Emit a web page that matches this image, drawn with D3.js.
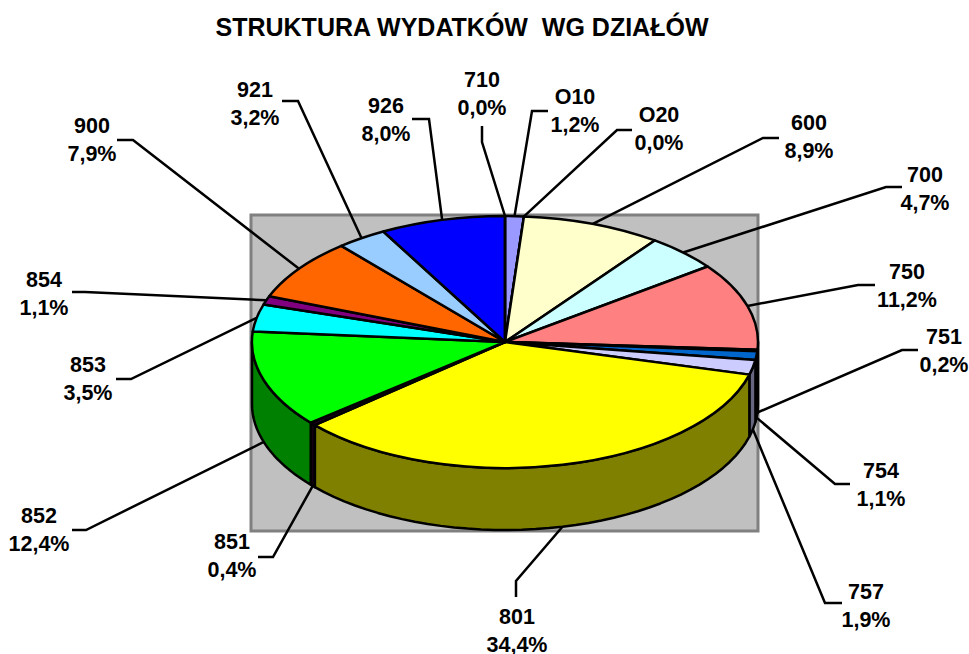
<!DOCTYPE html>
<html>
<head>
<meta charset="utf-8">
<script src="https://cdn.jsdelivr.net/npm/d3@7"></script>
<style>
  body { margin: 0; background: #fff; }
  text { font-family: "Liberation Sans", Arial, sans-serif; font-weight: bold; fill: #000; text-anchor: middle; }
</style>
</head>
<body>
<div id="vis"></div>
<script>
const categories = ["O10", "O20", "600", "700", "750", "751", "754", "757", "801", "851", "852", "853", "854", "900", "921", "926", "710"];
const shares = [1.2, 0.0, 8.9, 4.7, 11.2, 0.2, 1.1, 1.9, 34.4, 0.4, 12.4, 3.5, 1.1, 7.9, 3.2, 8.0, 0.0];
const shareLabels = ["1,2%", "0,0%", "8,9%", "4,7%", "11,2%", "0,2%", "1,1%", "1,9%", "34,4%", "0,4%", "12,4%", "3,5%", "1,1%", "7,9%", "3,2%", "8,0%", "0,0%"];
const colors = ["#9999ff", "#993366", "#ffffcc", "#ccffff", "#ff8080", "#000000", "#0066cc", "#ccccff", "#ffff00", "#200020", "#00ff00", "#00ffff", "#800080", "#ff6600", "#99ccff", "#0000ff", "#000080"];

const TITLE = "STRUKTURA WYDATKÓW  WG DZIAŁÓW";

const WIDTH = 969;
const HEIGHT = 654;
const CX = 505;
const CY = 342;
const RX = 253;
const RY = 126;
const DEPTH = 62;
const LINE = 2.5;

// where each label sits: text centre x, first line y, elbow x, elbow y, leader end x, leader end y
const labelLayout = {
  "O10": [575, 96, 532, 111, 548, 111],
  "O20": [659, 114, 617, 130, 632, 130],
  "600": [809, 122, 763, 138, 779, 138],
  "700": [925, 174, 886, 187, 902, 187],
  "750": [907, 271, 858, 285, 875, 285],
  "751": [944, 336, 902, 350, 918, 350],
  "754": [881, 470, 835, 484, 850, 484],
  "757": [866, 591, 825, 603, 842, 603],
  "801": [517, 616, 516, 581, 516, 597],
  "851": [232, 541, 273, 557, 258, 557],
  "852": [39, 515, 86, 530, 72, 530],
  "853": [88, 364, 131, 379, 116, 379],
  "854": [44, 279, 85, 292, 72, 292],
  "900": [92, 125, 133, 140, 117, 140],
  "921": [255, 89, 298, 101, 282, 101],
  "926": [386, 105, 429, 119, 412, 119],
  "710": [482, 79, 482, 142, 482, 126]
};

const xScale = d3.scaleLinear([-1, 1], [CX - RX, CX + RX]);
const yScale = d3.scaleLinear([-1, 1], [CY - RY, CY + RY]);

const slices = d3.pie().sort(null).value(d => d.share)(
  categories.map((name, i) => ({ name, share: shares[i], label: shareLabels[i], color: colors[i] }))
);

const rimX = a => xScale(Math.sin(a));
const rimY = a => yScale(-Math.cos(a));

function darker(c) {
  const rgb = d3.rgb(c);
  return d3.rgb(rgb.r / 2, rgb.g / 2, rgb.b / 2).formatHex();
}

const svg = d3.select("#vis")
  .append("svg")
    .attr("width", WIDTH)
    .attr("height", HEIGHT)
    .style("display", "block");

svg.append("text")
  .attr("x", 462)
  .attr("y", 36)
  .attr("font-size", 25)
  .style("white-space", "pre")
  .text(TITLE);

svg.append("rect")
  .attr("x", 251)
  .attr("y", 215)
  .attr("width", 507)
  .attr("height", 316)
  .attr("fill", "#c0c0c0")
  .attr("stroke", "#808080")
  .attr("stroke-width", 3);

// leaders go under the pie, they start on the rim
svg.append("g").selectAll("path")
  .data(slices)
  .enter()
  .append("path")
    .attr("fill", "none")
    .attr("stroke", "#000")
    .attr("stroke-width", LINE)
    .attr("d", d => {
      const mid = (d.startAngle + d.endAngle) / 2;
      const layout = labelLayout[d.data.name];
      const drop = Math.cos(mid) < 0 ? DEPTH : 0;
      const p = d3.path();
      p.moveTo(rimX(mid), rimY(mid) + drop);
      p.lineTo(layout[2], layout[3]);
      p.lineTo(layout[4], layout[5]);
      return p.toString();
    });

// side walls, only the front half is seen
const walls = svg.append("g");
slices.forEach(d => {
  const a0 = Math.max(d.startAngle, Math.PI / 2);
  const a1 = Math.min(d.endAngle, Math.PI * 3 / 2);
  if (a1 <= a0) return;
  const steps = d3.range(0, 41).map(i => a0 + (a1 - a0) * i / 40);
  const outline = steps.map(a => [rimX(a), rimY(a)])
    .concat(steps.slice().reverse().map(a => [rimX(a), rimY(a) + DEPTH]));
  walls.append("path")
    .attr("d", d3.line()(outline) + "Z")
    .attr("fill", darker(d.data.color))
    .attr("stroke", "#000")
    .attr("stroke-width", LINE)
    .attr("stroke-linejoin", "round");
});

const arc = d3.arc().innerRadius(0).outerRadius(1);

svg.append("g")
  .attr("transform", `translate(${CX},${CY}) scale(${RX},${RY})`)
  .selectAll("path")
  .data(slices)
  .enter()
  .append("path")
    .attr("d", arc)
    .attr("fill", d => d.data.color)
    .attr("stroke", "#000")
    .attr("stroke-width", LINE)
    .attr("stroke-linejoin", "round")
    .attr("vector-effect", "non-scaling-stroke");

const labels = svg.append("g").selectAll("text")
  .data(slices)
  .enter()
  .append("text")
    .attr("font-size", 21.5);

labels.append("tspan")
  .attr("x", d => labelLayout[d.data.name][0])
  .attr("y", d => labelLayout[d.data.name][1] + 8)
  .text(d => d.data.name);

labels.append("tspan")
  .attr("x", d => labelLayout[d.data.name][0])
  .attr("y", d => labelLayout[d.data.name][1] + 36)
  .text(d => d.data.label);
</script>
</body>
</html>
